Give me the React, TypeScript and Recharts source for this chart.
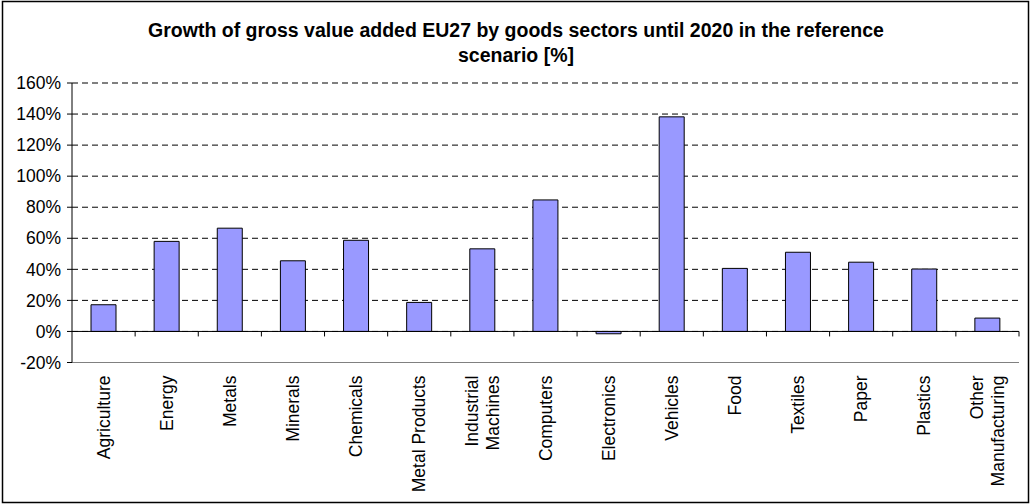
import React from "react";
import {
  BarChart,
  Bar,
  XAxis,
  YAxis,
  CartesianGrid,
  ReferenceLine,
} from "recharts";

const categories: string[] = [
  "Agriculture",
  "Energy",
  "Metals",
  "Minerals",
  "Chemicals",
  "Metal Products",
  "Industrial\nMachines",
  "Computers",
  "Electronics",
  "Vehicles",
  "Food",
  "Textiles",
  "Paper",
  "Plastics",
  "Other\nManufacturing",
];

const growth: number[] = [
  17.2, 58, 66.5, 45.5, 58.7, 18.7, 53.2, 84.7, -1.5, 138.2, 40.6, 51, 44.6, 40.2, 8.6,
];

const yTicks: number[] = [-20, 0, 20, 40, 60, 80, 100, 120, 140, 160];

const titleLines: string[] = [
  "Growth of gross value added EU27 by goods sectors until 2020 in the reference",
  "scenario [%]",
];

const data = categories.map((c, i) => ({ name: c, value: growth[i] }));

const FONT = "'Liberation Sans', Arial, sans-serif";
const W = 1031;
const H = 504;

const CategoryTick = (props: any) => {
  const { x, y, payload } = props;
  const lines = String(payload.value).split("\n");
  const lh = 21;
  return (
    <g transform={`translate(${x},${y + 5}) rotate(-90)`}>
      <text textAnchor="end" fontFamily={FONT} fontSize={17.5} fill="#000">
        {lines.map((l, i) => (
          <tspan key={i} x={0} y={(i - (lines.length - 1) / 2) * lh} dy="0.35em">
            {l}
          </tspan>
        ))}
      </text>
    </g>
  );
};

const ZeroLine = (props: any) => {
  const { x1, y1, x2 } = props;
  const n = categories.length;
  const step = (x2 - x1) / n;
  const ticks = [];
  for (let i = 1; i <= n; i++) {
    const tx = x1 + i * step;
    ticks.push(
      <line key={i} x1={tx} x2={tx} y1={y1} y2={y1 + 5} stroke="#000" strokeWidth={1} />
    );
  }
  return (
    <g>
      <line x1={x1} x2={x2} y1={y1} y2={y1} stroke="#000" strokeWidth={1} />
      {ticks}
    </g>
  );
};

export default function App() {
  return (
    <div style={{ position: "absolute", left: 0, top: 0, width: W, height: H, background: "#fff" }}>
      <svg width={W} height={H} style={{ position: "absolute", left: 0, top: 0 }}>
        <rect x={2.5} y={1.5} width={1026} height={501} fill="#fff" stroke="#000" strokeWidth={1.5} />
        {titleLines.map((t, i) => (
          <text
            key={i}
            x={516}
            y={37 + i * 25}
            textAnchor="middle"
            fontFamily={FONT}
            fontWeight="bold"
            fontSize={19.5}
            fill="#000"
          >
            {t}
          </text>
        ))}
      </svg>
      <div style={{ position: "absolute", left: 0, top: 0 }}>
        <BarChart
          width={W}
          height={H}
          data={data}
          margin={{ top: 83, right: 12, bottom: 0, left: 0 }}
          barSize={25}
        >
          <CartesianGrid horizontal={true} vertical={false} stroke="#000" strokeDasharray="6 4" />
          <XAxis
            dataKey="name"
            height={141.5}
            interval={0}
            axisLine={{ stroke: "#808080" }}
            tickLine={false}
            tick={<CategoryTick />}
          />
          <YAxis
            width={72}
            domain={[-20, 160]}
            ticks={yTicks}
            interval={0}
            tickFormatter={(v: number) => `${v}%`}
            axisLine={{ stroke: "#000" }}
            tickLine={{ stroke: "#000" }}
            tickSize={5}
            tickMargin={6}
            tick={{ fontFamily: FONT, fontSize: 17.5, fill: "#000" }}
          />
          <YAxis
            yAxisId="right"
            orientation="right"
            width={0}
            domain={[-20, 160]}
            tick={false}
            tickLine={false}
            axisLine={{ stroke: "#808080" }}
          />
          <Bar dataKey="value" fill="#9999FF" stroke="#000" strokeWidth={1} isAnimationActive={false} />
          <ReferenceLine y={0} shape={<ZeroLine />} />
        </BarChart>
      </div>
    </div>
  );
}
